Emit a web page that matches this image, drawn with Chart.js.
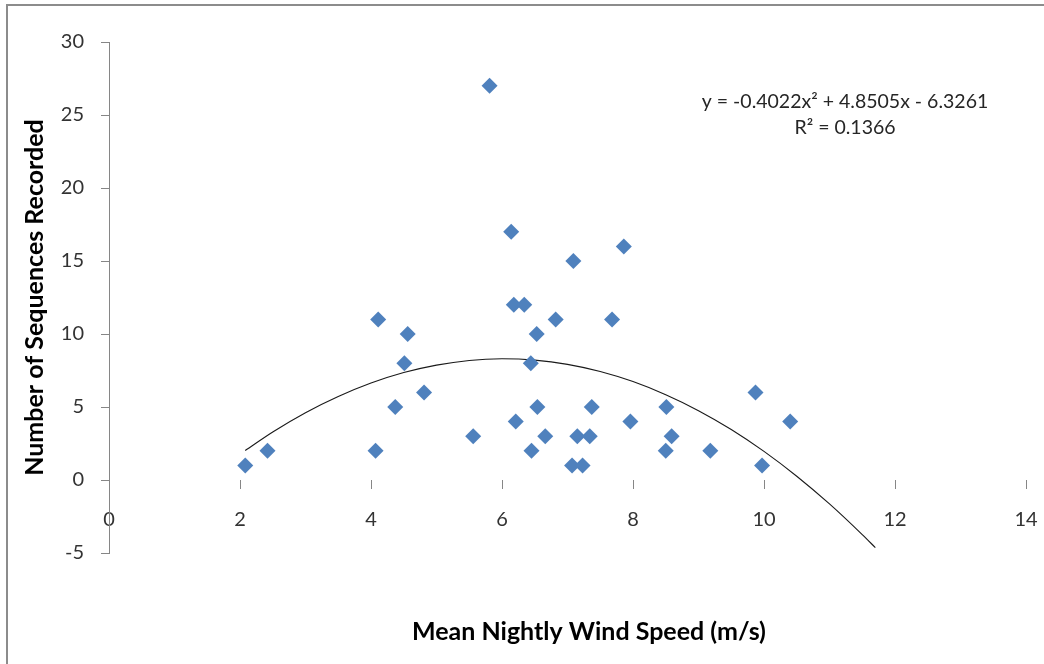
<!DOCTYPE html>
<html>
<head>
<meta charset="utf-8">
<script src="https://cdn.jsdelivr.net/npm/chart.js@4/dist/chart.umd.min.js"></script>
<style>
  html, body { margin: 0; padding: 0; background: #fff; }
  #wrap { width: 1044px; height: 664px; position: relative; }
</style>
</head>
<body>
<div id="wrap"><canvas id="windChart"></canvas></div>
<script>
// Data
const windSpeed = [2.08, 2.42, 4.07, 4.11, 4.37, 4.51, 4.56, 4.81, 5.56, 5.81,
                   6.14, 6.18, 6.21, 6.34, 6.44, 6.45, 6.53, 6.54, 6.66, 6.82,
                   7.09, 7.07, 7.15, 7.23, 7.34, 7.37, 7.68, 7.86, 7.96, 8.51,
                   8.50, 8.59, 9.18, 9.87, 9.97, 10.40];
const sequences = [1, 2, 2, 11, 5, 8, 10, 6, 3, 27,
                   17, 12, 4, 12, 8, 2, 10, 5, 3, 11,
                   15, 1, 3, 1, 3, 5, 11, 16, 4, 5,
                   2, 3, 2, 6, 1, 4];

// Polynomial trend line as drawn (sampled along the curve)
const trendX = [2.08, 2.5, 3, 3.5, 4, 4.5, 5, 5.5, 6, 6.5, 7, 7.5, 8, 8.5, 9, 9.5, 10, 10.5, 11, 11.5, 11.7];
const trendY = [2.02, 3.29, 4.61, 5.72, 6.64, 7.36, 7.87, 8.19, 8.30, 8.21, 7.92, 7.43, 6.74, 5.84, 4.75, 3.46, 1.96, 0.26, -1.64, -3.74, -4.63];

const xTicks = [0, 2, 4, 6, 8, 10, 12, 14];
const yTicks = [-5, 0, 5, 10, 15, 20, 25, 30];

const equationLines = ['y = -0.4022x\u00B2 + 4.8505x - 6.3261', 'R\u00B2 = 0.1366'];
const xTitle = 'Mean Nightly Wind Speed (m/s)';
const yTitle = 'Number of Sequences Recorded';

const FONT = 'Lato, "Open Sans", sans-serif';
const AXIS_GREY = '#868686';

const points = windSpeed.map((x, i) => ({ x, y: sequences[i] }));
const trend = trendX.map((x, i) => ({ x, y: trendY[i] }));

// frame, x-axis title and trend equation
const extras = {
    id: 'extras',
    beforeDraw(chart) {
        const { ctx } = chart;
        ctx.save();
        ctx.strokeStyle = '#8c8c8c';
        ctx.lineWidth = 2;
        ctx.beginPath();
        ctx.moveTo(7, 664);
        ctx.lineTo(7, 5);
        ctx.lineTo(1044, 5);
        ctx.stroke();
        ctx.restore();
    },
    afterDraw(chart) {
        const { ctx } = chart;
        ctx.save();
        ctx.fillStyle = '#000';
        ctx.textAlign = 'center';
        ctx.textBaseline = 'middle';
        ctx.font = 'bold 25px ' + FONT;
        ctx.fillText(xTitle, 589, 632);
        ctx.fillStyle = '#262626';
        ctx.font = '19.5px ' + FONT;
        ctx.fillText(equationLines[0], 845, 102);
        ctx.fillText(equationLines[1], 845, 128);
        ctx.restore();
    }
};

new Chart(document.getElementById('windChart'), {
    type: 'scatter',
    data: {
        datasets: [{
            label: 'Sequences',
            data: points,
            pointStyle: 'rectRot',
            pointRadius: 8,
            pointHoverRadius: 8,
            pointBackgroundColor: '#4F81BD',
            pointBorderWidth: 0,
            borderColor: '#4F81BD',
            order: 1
        }, {
            label: 'Poly. trend',
            data: trend,
            showLine: true,
            pointRadius: 0,
            borderColor: '#1a1a1a',
            borderWidth: 1.1,
            cubicInterpolationMode: 'monotone',
            order: 2
        }]
    },
    options: {
        responsive: true,
        maintainAspectRatio: false,
        animation: false,
        layout: { padding: { top: 42, right: 18, bottom: 111, left: 0 } },
        plugins: {
            legend: { display: false },
            tooltip: { enabled: false }
        },
        scales: {
            x: {
                type: 'linear',
                position: { y: 0 },
                min: 0,
                max: 14,
                afterBuildTicks: (scale) => { scale.ticks = xTicks.map(v => ({ value: v })); },
                afterFit: (scale) => { scale.paddingLeft = 0; scale.paddingRight = 0; },
                border: { display: false },
                grid: { drawOnChartArea: false, tickLength: 9, color: AXIS_GREY },
                ticks: { color: '#333', font: { family: FONT, size: 20 }, padding: 19, maxRotation: 0 }
            },
            y: {
                type: 'linear',
                min: -5,
                max: 30,
                afterBuildTicks: (scale) => { scale.ticks = yTicks.map(v => ({ value: v })); },
                afterFit: (scale) => { scale.width = 109; },
                border: { display: true, color: AXIS_GREY },
                grid: { drawOnChartArea: false, tickLength: 8, color: AXIS_GREY },
                ticks: { color: '#333', font: { family: FONT, size: 20 }, padding: 17 },
                title: {
                    display: true,
                    text: yTitle,
                    color: '#000',
                    font: { family: FONT, size: 25, weight: 'bold' },
                    padding: { top: 20 }
                }
            }
        }
    },
    plugins: [extras]
});
</script>
</body>
</html>
